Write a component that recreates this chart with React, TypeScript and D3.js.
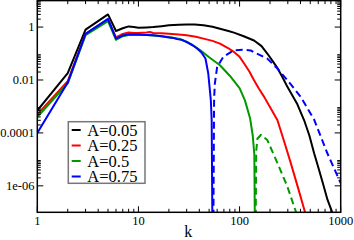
import React from "react";
import * as d3 from "d3";

const W = 354;
const H = 240;

// A = 0.05 (black)
const kBlack = [1, 2, 3, 5, 6, 7, 8, 9, 10, 12, 14, 17, 20, 25, 30, 36, 44, 54, 64, 76, 88, 110, 139, 165, 188, 210, 237, 265, 297, 335, 373, 435, 490, 546, 600, 659, 740, 825, 860];
const vBlack = [7e-4, 0.018, 0.8, 3.0, 0.71, 0.9, 1.06, 1.0, 0.95, 0.97, 1.0, 1.08, 1.16, 1.22, 1.26, 1.25, 1.16, 1.02, 0.87, 0.73, 0.615, 0.45, 0.31, 0.19, 0.1, 0.055, 0.028, 0.013, 0.0055, 0.0025, 0.0012, 3e-4, 8e-5, 1.7e-5, 5e-6, 1.45e-6, 3e-7, 1e-7, 5e-8];

// A = 0.25 (red)
const kRed = [1, 2, 3, 5, 6, 7, 8, 9, 10, 12, 13, 14, 17, 20, 25, 30, 37, 44, 54, 64, 76, 88, 100, 111, 125, 139, 155, 175, 205, 237, 280, 321, 380, 444, 470];
const vRed = [5e-4, 0.009, 0.55, 1.9, 0.41, 0.55, 0.62, 0.6, 0.6, 0.62, 0.65, 0.6, 0.58, 0.56, 0.52, 0.49, 0.43, 0.365, 0.3, 0.236, 0.165, 0.115, 0.075, 0.042, 0.021, 0.0098, 0.0048, 0.0023, 8e-4, 3e-4, 4e-5, 7.2e-6, 8e-7, 1e-7, 4e-8];

// A = 0.5 (green), positive part
const kGreen = [1, 2, 3, 5, 6, 7, 8, 10, 12, 15, 20, 25, 30, 35, 41, 50, 64, 80, 100, 113, 127, 135, 140, 142];
const vGreen = [4e-4, 0.0075, 0.5, 1.68, 0.33, 0.45, 0.5, 0.5, 0.5, 0.47, 0.42, 0.36, 0.28, 0.2, 0.133, 0.072, 0.036, 0.0145, 0.0049, 0.0017, 3.6e-4, 8e-5, 1.5e-5, 1e-8];
// A = 0.5, negative part (|value|)
const kGreenNeg = [144, 146, 150, 163, 188, 237, 297, 362, 380];
const vGreenNeg = [1e-8, 2e-5, 6e-5, 8.5e-5, 5.4e-5, 7.2e-6, 9.4e-7, 1e-7, 4e-8];

// A = 0.75 (blue), positive part
const kBlue = [1, 2, 3, 5, 6, 7, 8, 10, 12, 14, 17, 20, 22, 24, 27, 30, 34, 38, 42, 46, 49, 52, 53, 54];
const vBlue = [1e-4, 0.008, 0.55, 2.05, 0.365, 0.48, 0.53, 0.52, 0.5, 0.49, 0.45, 0.4, 0.39, 0.35, 0.33, 0.27, 0.21, 0.154, 0.11, 0.065, 0.018, 0.0017, 3e-4, 1e-8];
// A = 0.75, negative part (|value|)
const kBlueNeg = [55, 56, 57, 60, 69, 87, 110, 129, 188, 237, 297, 403, 546, 738, 1000];
const vBlueNeg = [1e-8, 0.002, 0.0074, 0.031, 0.074, 0.13, 0.14, 0.13, 0.064, 0.027, 0.0098, 0.0023, 3.2e-4, 1.7e-5, 1.26e-6];

const legendLabels = ["A=0.05", "A=0.25", "A=0.5", "A=0.75"];
const colors = ["#000000", "#ff0000", "#009900", "#0000ff"];

const xTickValues = [1, 10, 100, 1000];
const xTickLabels = ["1", "10", "100", "1000"];
const yTickValues = [1, 0.01, 0.0001, 1e-6];
const yTickLabels = ["1", "0.01", "0.0001", "1e-06"];

const L = 37.3, R = 340.7, T = 0.6, B = 212.3;

export default function App() {
  const x = d3.scaleLog().domain([1, 1000]).range([L, R]);
  const y = d3.scaleLog().domain([1e-7, 10]).range([B, T]);
  const line = d3
    .line<[number, number]>()
    .x((d) => x(d[0]))
    .y((d) => y(d[1]));
  const mk = (ks: number[], vs: number[]) => ks.map((k, i) => [k, vs[i]] as [number, number]);

  const series = [
    { d: mk(kBlack, vBlack), c: colors[0], dash: undefined },
    { d: mk(kRed, vRed), c: colors[1], dash: undefined },
    { d: mk(kGreen, vGreen), c: colors[2], dash: undefined },
    { d: mk(kGreenNeg, vGreenNeg), c: colors[2], dash: "7,4" },
    { d: mk(kBlue, vBlue), c: colors[3], dash: undefined },
    { d: mk(kBlueNeg, vBlueNeg), c: colors[3], dash: "7,4" },
  ];

  const xMinor: number[] = [];
  [1, 10, 100].forEach((m) => {
    for (let k = 2; k <= 9; k++) xMinor.push(m * k);
  });
  const yMinor: number[] = [];
  yTickValues.forEach((m) => {
    for (let k = 2; k <= 9; k++) yMinor.push(m * k);
  });

  const major = 6, minor = 3.5;
  const font = "'Liberation Serif', 'Times New Roman', serif";

  return (
    <svg width={W} height={H} style={{ position: "absolute", left: 0, top: 0, background: "#fff" }}>
      <defs>
        <clipPath id="plot">
          <rect x={L} y={T} width={R - L} height={B - T} />
        </clipPath>
      </defs>
      <rect x={0} y={0} width={W} height={H} fill="#fff" />
      <g clipPath="url(#plot)">
        {series.map((s, i) => (
          <path key={i} d={line(s.d) || ""} fill="none" stroke={s.c} strokeWidth={2} strokeDasharray={s.dash} strokeLinejoin="round" />
        ))}
      </g>
      {/* ticks */}
      <g stroke="#000" strokeWidth={1}>
        {xTickValues.map((v) => (
          <g key={"xM" + v}>
            <line x1={x(v)} x2={x(v)} y1={B} y2={B - major} />
            <line x1={x(v)} x2={x(v)} y1={T} y2={T + major} />
          </g>
        ))}
        {xMinor.map((v) => (
          <g key={"xm" + v}>
            <line x1={x(v)} x2={x(v)} y1={B} y2={B - minor} />
            <line x1={x(v)} x2={x(v)} y1={T} y2={T + minor} />
          </g>
        ))}
        {yTickValues.map((v) => (
          <g key={"yM" + v}>
            <line x1={L} x2={L + major} y1={y(v)} y2={y(v)} />
            <line x1={R} x2={R - major} y1={y(v)} y2={y(v)} />
          </g>
        ))}
        {yMinor.map((v) => (
          <g key={"ym" + v}>
            <line x1={L} x2={L + minor} y1={y(v)} y2={y(v)} />
            <line x1={R} x2={R - minor} y1={y(v)} y2={y(v)} />
          </g>
        ))}
      </g>
      <rect x={L} y={T} width={R - L} height={B - T} fill="none" stroke="#000" strokeWidth={1.5} />
      {/* tick labels */}
      <g fontFamily={font} fontSize={12.5} fill="#000">
        {xTickValues.map((v, i) => (
          <text key={"xl" + v} x={x(v)} y={224.5} textAnchor="middle">
            {xTickLabels[i]}
          </text>
        ))}
        {yTickValues.map((v, i) => (
          <text key={"yl" + v} x={34.5} y={y(v) + 4.3} textAnchor="end">
            {yTickLabels[i]}
          </text>
        ))}
      </g>
      <text x={188.3} y={236.5} textAnchor="middle" fontFamily={font} fontSize={16}>
        k
      </text>
      {/* legend */}
      <rect x={68.3} y={121.7} width={76.7} height={61.6} fill="#fff" stroke="#777" strokeWidth={1.5} />
      {legendLabels.map((lab, i) => {
        const cy = 130 + i * 15.5;
        return (
          <g key={lab}>
            <line x1={71.7} x2={80.7} y1={cy} y2={cy} stroke={colors[i]} strokeWidth={2} />
            <text x={87.3} y={cy + 5.5} fontFamily={font} fontSize={16.5} fill="#000">
              {lab}
            </text>
          </g>
        );
      })}
    </svg>
  );
}
